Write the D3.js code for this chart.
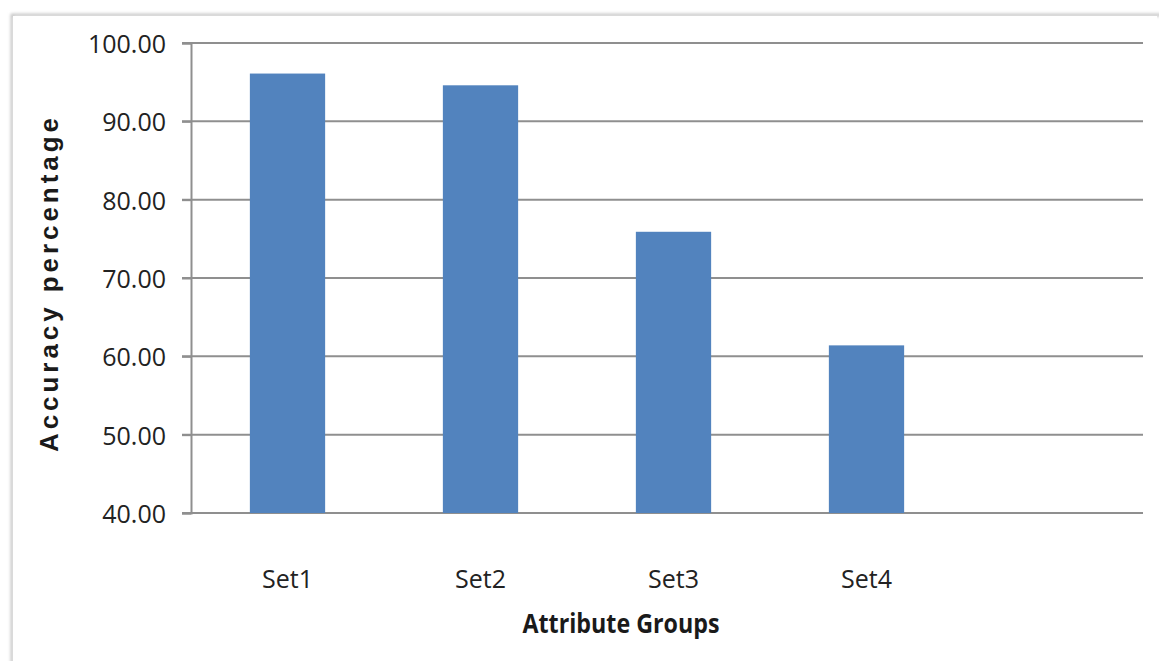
<!DOCTYPE html>
<html>
<head>
<meta charset="utf-8">
<script src="https://cdn.jsdelivr.net/npm/d3@7"></script>
<style>
  html, body { margin: 0; padding: 0; background: #ffffff; }
  svg { display: block; }
</style>
</head>
<body>
<svg id="chart" width="1159" height="661"></svg>
<script>
// Accuracy per attribute group (the last slot is an empty category)
const categories = ["Set1", "Set2", "Set3", "Set4", ""];
const accuracy = [96.1, 94.6, 75.9, 61.4, null];
const yTicks = [40, 50, 60, 70, 80, 90, 100];

const svg = d3.select("#chart");
const W = 1159, H = 661;

// soft outer frame of the chart area
const defs = svg.append("defs");
const sh = defs.append("filter").attr("id", "frameShadow")
  .attr("x", "-5%").attr("y", "-5%").attr("width", "110%").attr("height", "110%");
sh.append("feGaussianBlur").attr("stdDeviation", 1.5);

svg.append("rect")
  .attr("x", 12).attr("y", 15).attr("width", W - 12 + 20).attr("height", H)
  .attr("fill", "none").attr("stroke", "#bdbdbd").attr("stroke-width", 2.5)
  .attr("filter", "url(#frameShadow)");
svg.append("rect")
  .attr("x", 13).attr("y", 16).attr("width", W - 15).attr("height", H)
  .attr("fill", "#ffffff");

const plot = { left: 191, top: 43, bottom: 513, gridRight: 1143, bandRight: 1156 };

const x = d3.scaleBand()
  .domain(categories)
  .range([plot.left, plot.bandRight])
  .paddingInner(0.61)
  .paddingOuter(0.305);

const y = d3.scaleLinear()
  .domain([40, 100])
  .range([plot.bottom, plot.top]);

// horizontal gridlines
svg.append("g")
  .selectAll("line")
  .data(yTicks)
  .join("line")
  .attr("x1", plot.left - 9)
  .attr("x2", plot.gridRight)
  .attr("y1", d => y(d))
  .attr("y2", d => y(d))
  .attr("stroke", "#8f8f8f")
  .attr("stroke-width", 2);

// bars
svg.append("g")
  .selectAll("rect")
  .data(categories.map((c, i) => ({ c, v: accuracy[i] })).filter(d => d.v != null))
  .join("rect")
  .attr("x", d => x(d.c))
  .attr("width", x.bandwidth())
  .attr("y", d => y(d.v))
  .attr("height", d => y(40) - y(d.v))
  .attr("fill", "#5283be");

// y axis
const yAxis = svg.append("g")
  .attr("transform", `translate(${plot.left},0)`)
  .call(d3.axisLeft(y).tickValues(yTicks).tickFormat(d3.format(".2f")).tickSize(9).tickPadding(16));
yAxis.select(".domain").attr("stroke", "#8f8f8f").attr("stroke-width", 2);
yAxis.selectAll(".tick line").attr("stroke", "#8f8f8f").attr("stroke-width", 2);
yAxis.selectAll(".tick text")
  .attr("font-family", "'Open Sans', 'Noto Sans', sans-serif")
  .attr("font-size", 25)
  .attr("fill", "#222222")
  .attr("dy", "0.38em");

// x axis labels
const xAxis = svg.append("g")
  .attr("transform", `translate(0,${plot.bottom})`)
  .call(d3.axisBottom(x).tickSize(0).tickPadding(57));
xAxis.select(".domain").remove();
xAxis.selectAll(".tick text")
  .attr("font-family", "'Open Sans', 'Noto Sans', sans-serif")
  .attr("font-size", 25)
  .attr("fill", "#222222");

// axis titles
svg.append("text")
  .attr("transform", "translate(58,285) rotate(-90)")
  .attr("text-anchor", "middle")
  .attr("font-family", "'Liberation Sans', Arial, sans-serif")
  .attr("font-weight", "bold")
  .attr("font-size", 26)
  .attr("fill", "#1a1a1a")
  .attr("textLength", 334)
  .attr("lengthAdjust", "spacing")
  .text("Accuracy  percentage");

svg.append("text")
  .attr("x", 621)
  .attr("y", 633)
  .attr("text-anchor", "middle")
  .attr("font-family", "'Liberation Sans Narrow', 'Open Sans', sans-serif")
  .attr("font-weight", "bold")
  .attr("font-size", 26)
  .attr("fill", "#1a1a1a")
  .attr("textLength", 197)
  .attr("lengthAdjust", "spacingAndGlyphs")
  .text("Attribute Groups");
</script>
</body>
</html>
